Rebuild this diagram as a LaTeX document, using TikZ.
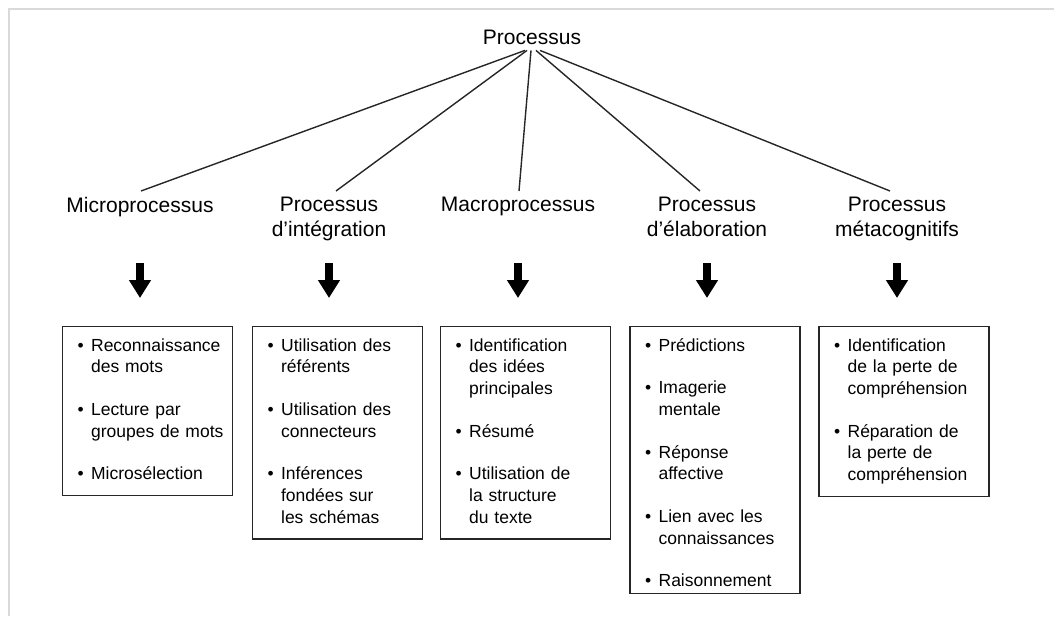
\documentclass[tikz,border=0pt]{standalone}
\usepackage{fontspec}
\setmainfont{Liberation Sans}
\usepackage{tikz}
\usetikzlibrary{arrows.meta,positioning,calc}

\newcommand{\itemlist}[1]{\begin{tabular}{@{}l@{\hspace{7.5pt}}l@{}}#1\end{tabular}}

\begin{document}
\begin{tikzpicture}[x=1pt,y=-1pt,
  headtext/.style={font=\fontsize{21}{25}\selectfont,align=center,inner xsep=2pt,inner ysep=6pt},
  listbox/.style={draw=black!85,line width=1.3pt,anchor=north,text width=140pt,
    inner xsep=15pt,inner ysep=9.25pt,align=left,font=\fontsize{17.5}{21.7}\selectfont},
  branch/.style={line width=1.4pt,black!85},
  bigarrow/.style={line width=8.5pt,-{Triangle[length=18pt,width=21pt]},black}]

\useasboundingbox (0,0) rectangle (1054,616);

%% Page frame (light grey, top and left only)
\draw[gray!30,line width=2pt] (9,616) -- (9,9) -- (1054,9);

%% Root
\node[headtext,anchor=base] (proc) at (532,44) {Processus};

%% The five kinds of processes
\node[headtext,anchor=north] (micro) at (140,191) {Microprocessus};
\node[headtext,anchor=north] (integ) at (329,191) {Processus\\d’intégration};
\node[headtext,anchor=north] (macro) at (518,191) {Macroprocessus};
\node[headtext,anchor=north] (elab)  at (707,191) {Processus\\d’élaboration};
\node[headtext,anchor=north] (meta)  at (897,191) {Processus\\métacognitifs};

%% Branches from the root
\foreach \n/\dx/\ex in {micro/-7/1, integ/-5/7, macro/-1/1, elab/4/-7, meta/8/-7}
  \draw[branch] ([xshift=\dx pt]proc.south) -- ([xshift=\ex pt]\n.north);

%% Block arrows
\foreach \n in {micro,integ,macro,elab,meta}{
  \coordinate (\n-a) at (\n |- 0,263);
  \coordinate (\n-b) at (\n |- 0,298);
  \draw[bigarrow] (\n-a) -- (\n-b);
}

%% Lists
\node[listbox] (micro-list) at (147.5,326) {\itemlist{
  \textbullet & Reconnaissance\\ & des mots\\[21pt]
  \textbullet & Lecture par\\ & groupes de mots\\[21pt]
  \textbullet & Microsélection}};
\node[listbox] (integ-list) at (337.5,326) {\itemlist{
  \textbullet & Utilisation des\\ & référents\\[21pt]
  \textbullet & Utilisation des\\ & connecteurs\\[21pt]
  \textbullet & Inférences\\ & fondées sur\\ & les schémas}};
\node[listbox] (macro-list) at (525.5,326) {\itemlist{
  \textbullet & Identification\\ & des idées\\ & principales\\[21pt]
  \textbullet & Résumé\\[21pt]
  \textbullet & Utilisation de\\ & la structure\\ & du texte}};
\node[listbox] (elab-list) at (715,326) {\itemlist{
  \textbullet & Prédictions\\[21pt]
  \textbullet & Imagerie\\ & mentale\\[21pt]
  \textbullet & Réponse\\ & affective\\[21pt]
  \textbullet & Lien avec les\\ & connaissances\\[21pt]
  \textbullet & Raisonnement\\[-9pt]}};
\node[listbox] (meta-list) at (904,326) {\itemlist{
  \textbullet & Identification\\ & de la perte de\\ & compréhension\\[21pt]
  \textbullet & Réparation de\\ & la perte de\\ & compréhension}};

\end{tikzpicture}
\end{document}
